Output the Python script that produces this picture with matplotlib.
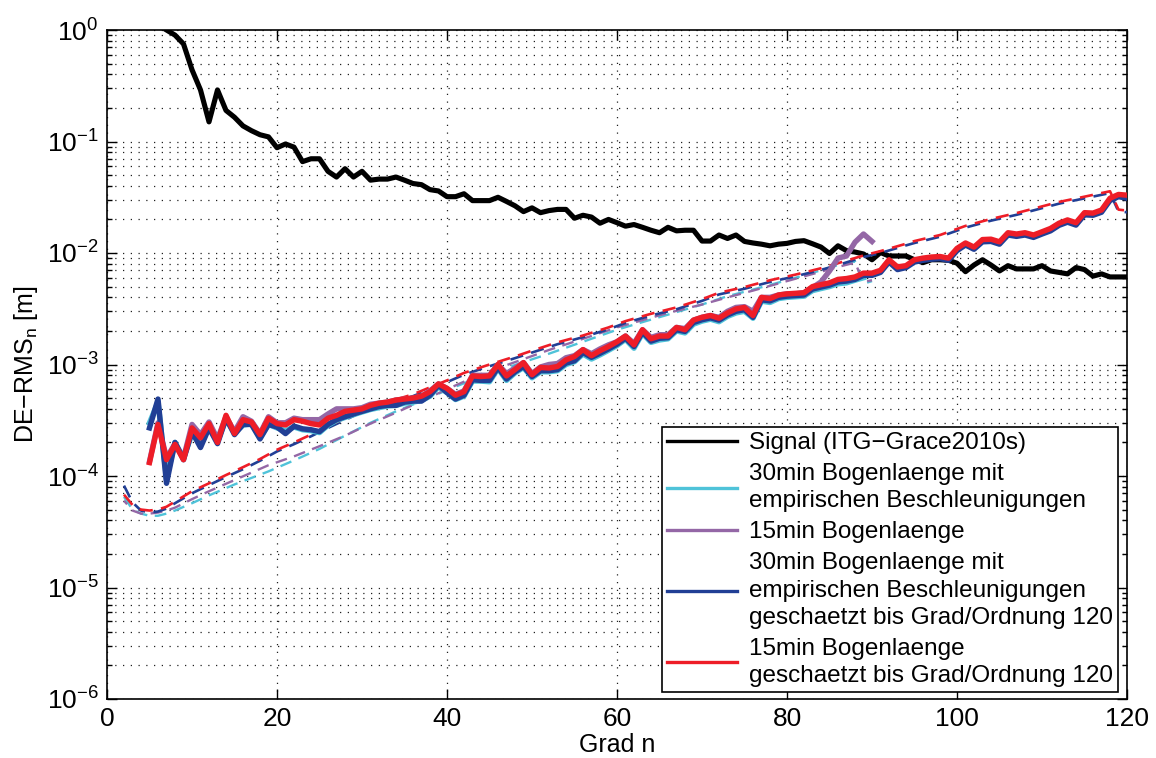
import numpy as np
import matplotlib
matplotlib.use("Agg")
import matplotlib.pyplot as plt
from matplotlib.lines import Line2D
from matplotlib.ticker import FixedLocator, NullFormatter, LogFormatterSciNotation

plt.rcParams['font.family'] = ['Liberation Sans', 'DejaVu Sans']
plt.rcParams['mathtext.fontset'] = 'custom'
plt.rcParams['mathtext.rm'] = 'Liberation Sans'
plt.rcParams['mathtext.it'] = 'Liberation Sans:italic'
plt.rcParams['mathtext.bf'] = 'Liberation Sans:bold'

# ---- degree-RMS values ---------------------------------------------------
signal_deg = np.arange(7, 121)
signal_rms = [
    1.00, 0.90, 0.75, 0.44, 0.29, 0.15, 0.29, 0.19, 0.165, 0.138,
    0.125, 0.115, 0.110, 0.088, 0.095, 0.089, 0.066, 0.070, 0.070, 0.054,
    0.048, 0.057, 0.048, 0.054, 0.045, 0.046, 0.046, 0.048, 0.045, 0.042,
    0.041, 0.037, 0.036, 0.032, 0.032, 0.034, 0.0295, 0.0295, 0.0295, 0.0316,
    0.029, 0.0265, 0.0235, 0.0254, 0.023, 0.024, 0.0246, 0.0246, 0.0205, 0.0218,
    0.021, 0.0185, 0.020, 0.0187, 0.0174, 0.018, 0.017, 0.016, 0.0152, 0.017,
    0.0158, 0.016, 0.016, 0.0128, 0.0128, 0.0145, 0.0135, 0.0145, 0.0127, 0.0123,
    0.012, 0.0116, 0.012, 0.0122, 0.0127, 0.0129, 0.0121, 0.0113, 0.0099, 0.0116,
    0.0105, 0.0102, 0.0098, 0.0087, 0.0101, 0.0094, 0.0094, 0.0094, 0.0087, 0.0082,
    0.0087, 0.0087, 0.0086, 0.0081, 0.0068, 0.0078, 0.0087, 0.0078, 0.0069, 0.0077,
    0.0072, 0.0072, 0.0072, 0.0077, 0.0069, 0.0067, 0.0065, 0.0074, 0.0071, 0.0062,
    0.0065, 0.0061, 0.0061, 0.0061,
]

# 15 min arcs, estimated up to degree/order 120
red_deg = np.arange(5, 121)
red_rms = [
    1.32e-4, 2.9e-4, 1.4e-4, 1.92e-4, 1.4e-4, 2.7e-4, 2.2e-4, 2.95e-4, 2.0e-4, 3.5e-4,
    2.4e-4, 3.2e-4, 3.05e-4, 2.35e-4, 3.3e-4, 2.95e-4, 2.87e-4, 3.2e-4, 3.1e-4, 2.95e-4,
    2.87e-4, 3.3e-4, 3.5e-4, 3.8e-4, 3.9e-4, 4.0e-4, 4.3e-4, 4.5e-4, 4.6e-4, 4.8e-4,
    4.9e-4, 5.0e-4, 5.2e-4, 5.7e-4, 6.7e-4, 6.1e-4, 5.3e-4, 5.7e-4, 7.9e-4, 7.8e-4,
    7.9e-4, 1.0e-3, 7.9e-4, 9.0e-4, 1.04e-3, 8.1e-4, 9.4e-4, 9.3e-4, 9.6e-4, 1.1e-3,
    1.18e-3, 1.36e-3, 1.2e-3, 1.33e-3, 1.45e-3, 1.6e-3, 1.8e-3, 1.5e-3, 2.05e-3, 1.7e-3,
    1.8e-3, 1.8e-3, 2.15e-3, 2.05e-3, 2.5e-3, 2.65e-3, 2.75e-3, 2.6e-3, 2.9e-3, 3.15e-3,
    3.25e-3, 2.75e-3, 4.0e-3, 3.9e-3, 4.2e-3, 4.3e-3, 4.35e-3, 4.4e-3, 5.0e-3, 5.2e-3,
    5.4e-3, 5.8e-3, 5.9e-3, 6.1e-3, 6.6e-3, 6.6e-3, 7.0e-3, 8.7e-3, 7.5e-3, 7.7e-3,
    8.7e-3, 9.0e-3, 9.2e-3, 9.3e-3, 9.0e-3, 0.011, 0.0123, 0.0113, 0.0132, 0.0133,
    0.0126, 0.0152, 0.0148, 0.0152, 0.0145, 0.0155, 0.0166, 0.0185, 0.0198, 0.0187,
    0.023, 0.0228, 0.0243, 0.031, 0.0335, 0.033,
]

# 30 min arcs with empirical accelerations, estimated up to degree/order 120
blue_deg = np.arange(5, 121)
blue_rms = [
    2.7e-4, 4.9e-4, 8.6e-5, 2.0e-4, 1.4e-4, 2.5e-4, 1.8e-4, 2.7e-4, 1.95e-4, 3.3e-4,
    2.35e-4, 2.9e-4, 2.9e-4, 2.15e-4, 2.9e-4, 2.75e-4, 2.4e-4, 2.8e-4, 2.65e-4, 2.6e-4,
    2.5e-4, 2.9e-4, 3.2e-4, 3.4e-4, 3.6e-4, 3.8e-4, 4.0e-4, 4.2e-4, 4.3e-4, 4.3e-4,
    4.6e-4, 4.7e-4, 4.7e-4, 5.3e-4, 6.5e-4, 5.6e-4, 4.9e-4, 5.3e-4, 7.3e-4, 7.2e-4,
    7.2e-4, 9.4e-4, 7.4e-4, 8.6e-4, 9.6e-4, 7.8e-4, 8.8e-4, 8.8e-4, 9.0e-4, 1.03e-3,
    1.08e-3, 1.28e-3, 1.16e-3, 1.26e-3, 1.38e-3, 1.52e-3, 1.72e-3, 1.45e-3, 1.95e-3, 1.62e-3,
    1.72e-3, 1.74e-3, 2.05e-3, 1.98e-3, 2.38e-3, 2.52e-3, 2.62e-3, 2.5e-3, 2.78e-3, 3.0e-3,
    3.1e-3, 2.65e-3, 3.8e-3, 3.72e-3, 4.0e-3, 4.1e-3, 4.15e-3, 4.2e-3, 4.75e-3, 4.95e-3,
    5.15e-3, 5.5e-3, 5.6e-3, 5.8e-3, 6.3e-3, 6.3e-3, 6.7e-3, 8.3e-3, 7.1e-3, 7.4e-3,
    8.3e-3, 8.6e-3, 8.8e-3, 8.9e-3, 8.6e-3, 0.0105, 0.0118, 0.0108, 0.0126, 0.0127,
    0.0120, 0.0145, 0.0141, 0.0145, 0.0138, 0.0148, 0.0158, 0.0177, 0.0189, 0.0178,
    0.0220, 0.0218, 0.0232, 0.0296, 0.0320, 0.0310,
]

# 30 min arcs with empirical accelerations
cyan_deg = np.arange(5, 90)
cyan_rms = [
    3.0e-4, 4.6e-4, 9.5e-5, 2.0e-4, 1.45e-4, 2.4e-4, 1.9e-4, 2.75e-4, 2.05e-4, 3.2e-4,
    2.45e-4, 2.85e-4, 2.95e-4, 2.2e-4, 2.9e-4, 2.7e-4, 2.55e-4, 2.75e-4, 2.6e-4, 2.55e-4,
    2.45e-4, 2.85e-4, 3.15e-4, 3.35e-4, 3.55e-4, 3.75e-4, 3.95e-4, 4.1e-4, 4.25e-4, 4.3e-4,
    4.5e-4, 4.6e-4, 4.75e-4, 5.2e-4, 6.3e-4, 5.6e-4, 4.85e-4, 5.2e-4, 7.1e-4, 7.1e-4,
    7.0e-4, 9.2e-4, 7.2e-4, 8.4e-4, 9.4e-4, 7.6e-4, 8.6e-4, 8.6e-4, 8.8e-4, 1.0e-3,
    1.06e-3, 1.24e-3, 1.12e-3, 1.22e-3, 1.34e-3, 1.48e-3, 1.68e-3, 1.4e-3, 1.9e-3, 1.58e-3,
    1.66e-3, 1.7e-3, 2.0e-3, 1.92e-3, 2.3e-3, 2.45e-3, 2.55e-3, 2.42e-3, 2.7e-3, 2.9e-3,
    3.0e-3, 2.6e-3, 3.7e-3, 3.6e-3, 3.9e-3, 4.0e-3, 4.05e-3, 4.1e-3, 4.6e-3, 4.8e-3,
    5.0e-3, 5.3e-3, 5.4e-3, 5.7e-3, 6.0e-3,
]

# 15 min arcs
purple_deg = np.arange(5, 91)
purple_rms = [
    1.35e-4, 3.0e-4, 1.45e-4, 1.95e-4, 1.45e-4, 2.9e-4, 2.35e-4, 3.05e-4, 2.15e-4, 3.4e-4,
    2.5e-4, 3.4e-4, 3.1e-4, 2.4e-4, 3.4e-4, 3.0e-4, 3.0e-4, 3.3e-4, 3.2e-4, 3.2e-4,
    3.2e-4, 3.6e-4, 4.0e-4, 4.0e-4, 4.0e-4, 4.1e-4, 4.4e-4, 4.5e-4, 4.6e-4, 4.8e-4,
    4.9e-4, 5.0e-4, 5.2e-4, 5.8e-4, 6.7e-4, 6.1e-4, 5.4e-4, 5.8e-4, 8.0e-4, 8.0e-4,
    8.0e-4, 1.0e-3, 8.3e-4, 9.3e-4, 1.04e-3, 8.3e-4, 9.5e-4, 1.0e-3, 1.02e-3, 1.15e-3,
    1.2e-3, 1.36e-3, 1.25e-3, 1.38e-3, 1.5e-3, 1.6e-3, 1.8e-3, 1.55e-3, 2.05e-3, 1.75e-3,
    1.85e-3, 1.85e-3, 2.15e-3, 2.1e-3, 2.5e-3, 2.65e-3, 2.75e-3, 2.65e-3, 3.0e-3, 3.25e-3,
    3.3e-3, 3.0e-3, 4.0e-3, 4.0e-3, 4.2e-3, 4.3e-3, 4.3e-3, 4.4e-3, 4.9e-3, 5.5e-3,
    6.9e-3, 9.0e-3, 9.4e-3, 0.0125, 0.0148, 0.0127,
]

# formal errors (dashed)
red_f_deg = [2, 3, 4, 5, 6, 7, 8, 10, 12, 14, 16, 18, 20, 22, 24, 26, 28, 30, 33, 36,
             40, 42, 45, 48, 50, 53, 56, 59, 61, 64, 67, 70, 72, 75, 78, 81, 84, 86, 89, 91,
             94, 95, 98, 101, 104, 107, 109, 112, 115, 118, 119, 120]
red_f_rms = [6.8e-5, 5.5e-5, 5.0e-5, 4.9e-5, 5.0e-5, 5.3e-5, 5.9e-5, 7.3e-5, 8.6e-5, 1.02e-4,
             1.2e-4, 1.42e-4, 1.72e-4, 2.0e-4, 2.35e-4, 2.8e-4, 3.3e-4, 3.9e-4, 4.6e-4, 5.4e-4,
             7.2e-4, 8.4e-4, 1.0e-3, 1.18e-3, 1.33e-3, 1.58e-3, 1.82e-3, 2.15e-3, 2.45e-3, 2.85e-3,
             3.25e-3, 3.85e-3, 4.4e-3, 4.95e-3, 5.7e-3, 6.4e-3, 7.3e-3, 8.1e-3, 9.5e-3, 0.0104,
             0.0121, 0.0128, 0.0145, 0.0175, 0.0202, 0.0228, 0.025, 0.0287, 0.032, 0.0358,
             0.0245, 0.024]

blue_f_deg = red_f_deg
blue_f_rms = [8.2e-5, 5.8e-5, 4.9e-5, 4.7e-5, 4.8e-5, 5.1e-5, 5.7e-5, 7.0e-5, 8.3e-5, 9.8e-5,
              1.15e-4, 1.37e-4, 1.66e-4, 1.93e-4, 2.27e-4, 2.7e-4, 3.18e-4, 3.75e-4, 4.45e-4, 5.2e-4,
              6.95e-4, 8.1e-4, 9.65e-4, 1.14e-3, 1.28e-3, 1.52e-3, 1.76e-3, 2.07e-3, 2.36e-3, 2.75e-3,
              3.13e-3, 3.72e-3, 4.25e-3, 4.78e-3, 5.5e-3, 6.18e-3, 7.05e-3, 7.8e-3, 9.2e-3, 0.0100,
              0.0117, 0.0123, 0.0140, 0.0169, 0.0195, 0.0220, 0.0241, 0.0277, 0.0309, 0.0345,
              0.0236, 0.0232]

cyan_f_deg = [2, 3, 4, 5, 6, 7, 8, 10, 12, 15, 19, 22, 25, 28, 31, 34, 37, 40, 44, 48,
              52, 56, 60, 63, 66, 70, 73, 76, 80, 84, 86, 88, 89, 90]
cyan_f_rms = [6.5e-5, 5.0e-5, 4.6e-5, 4.4e-5, 4.4e-5, 4.6e-5, 4.9e-5, 5.7e-5, 6.7e-5, 8.4e-5,
              1.1e-4, 1.38e-4, 1.75e-4, 2.3e-4, 3.0e-4, 3.8e-4, 4.7e-4, 5.9e-4, 7.8e-4, 9.9e-4,
              1.25e-3, 1.6e-3, 2.05e-3, 2.4e-3, 2.8e-3, 3.45e-3, 4.1e-3, 4.7e-3, 5.7e-3, 7.0e-3,
              7.8e-3, 8.4e-3, 5.3e-3, 5.6e-3]

purple_f_deg = cyan_f_deg
purple_f_rms = [6.0e-5, 4.9e-5, 4.6e-5, 4.6e-5, 4.7e-5, 4.9e-5, 5.2e-5, 6.2e-5, 7.3e-5, 9.2e-5,
                1.25e-4, 1.5e-4, 1.85e-4, 2.3e-4, 2.95e-4, 3.7e-4, 4.7e-4, 6.0e-4, 8.2e-4, 1.05e-3,
                1.35e-3, 1.7e-3, 2.15e-3, 2.5e-3, 2.9e-3, 3.45e-3, 4.0e-3, 4.6e-3, 5.6e-3, 6.8e-3,
                7.5e-3, 8.2e-3, 5.5e-3, 5.7e-3]

y_major = [1e-6, 1e-5, 1e-4, 1e-3, 1e-2, 1e-1, 1e0]
x_major = [0, 20, 40, 60, 80, 100, 120]

labels = [
    "Signal (ITG\u2212Grace2010s)",
    "30min Bogenlaenge mit\nempirischen Beschleunigungen",
    "15min Bogenlaenge",
    "30min Bogenlaenge mit\nempirischen Beschleunigungen\ngeschaetzt bis Grad/Ordnung 120",
    "15min Bogenlaenge\ngeschaetzt bis Grad/Ordnung 120",
]

C_SIG = "#000000"
C_CYAN = "#4fc3d9"
C_PURP = "#9467a6"
C_BLUE = "#213f95"
C_RED = "#ee1d27"

fig = plt.figure(figsize=(11.56, 7.58), dpi=100)
ax = fig.add_axes([107 / 1156, 1 - 699 / 758, 1020 / 1156, 669 / 758])

ax.plot(signal_deg, signal_rms, color=C_SIG, lw=3.7, zorder=3)

dash = (0, (5, 3.2))
ax.plot(cyan_f_deg, cyan_f_rms, color=C_CYAN, lw=1.7, ls=dash, zorder=4)
ax.plot(purple_f_deg, purple_f_rms, color=C_PURP, lw=1.7, ls=(3, (5, 3.2)), zorder=4)
ax.plot(blue_f_deg, blue_f_rms, color=C_BLUE, lw=1.9, ls=dash, zorder=4)
ax.plot(red_f_deg, red_f_rms, color=C_RED, lw=1.9, ls=dash, zorder=4)

ax.plot(cyan_deg, cyan_rms, color=C_CYAN, lw=3.9, zorder=5)
ax.plot(purple_deg, purple_rms, color=C_PURP, lw=3.9, zorder=5)
ax.plot(blue_deg, blue_rms, color=C_BLUE, lw=3.9, zorder=5)
ax.plot(red_deg, red_rms, color=C_RED, lw=3.9, zorder=6)

ax.set_yscale('log')
ax.set_xlim(0, 120)
ax.set_ylim(1e-6, 1)
ax.set_xticks(x_major)
ax.yaxis.set_major_locator(FixedLocator(y_major))
ax.yaxis.set_major_formatter(LogFormatterSciNotation())
minor_y = [m * d for d in y_major[:-1] for m in range(2, 10)]
ax.yaxis.set_minor_locator(FixedLocator(minor_y))
ax.yaxis.set_minor_formatter(NullFormatter())

grid_kw = dict(color='#202020', lw=0.9, ls=(0, (1, 5.2)))
ax.grid(True, which='major', axis='both', **grid_kw)
ax.grid(True, which='minor', axis='y', **grid_kw)
ax.set_axisbelow(True)

ax.tick_params(which='both', direction='in', top=True, right=True, width=1.0,
               labelsize=19, pad=6)
ax.tick_params(which='major', length=7)
ax.tick_params(which='minor', length=3.5)
for s in ax.spines.values():
    s.set_linewidth(1.2)

ax.set_xlabel("Grad n", fontsize=18, labelpad=1)
ax.set_ylabel("DE\u2212RMS$_\\mathregular{n}$ [m]", fontsize=18, labelpad=5)

handles = [Line2D([], [], color=c, lw=2.4) for c in (C_SIG, C_CYAN, C_PURP, C_BLUE, C_RED)]
leg = ax.legend(handles, labels, loc='lower right',
                bbox_to_anchor=(1011 / 1020, 7 / 669), fontsize=17.5,
                frameon=True, fancybox=False, framealpha=1, edgecolor='black',
                handlelength=2.9, handletextpad=0.5, labelspacing=0.37,
                borderpad=0.2, borderaxespad=0.0)
leg.get_frame().set_linewidth(1.2)
for t in leg.get_texts():
    t.set_linespacing(1.31)
leg.set_zorder(10)

fig.savefig("out.png", dpi=100)
